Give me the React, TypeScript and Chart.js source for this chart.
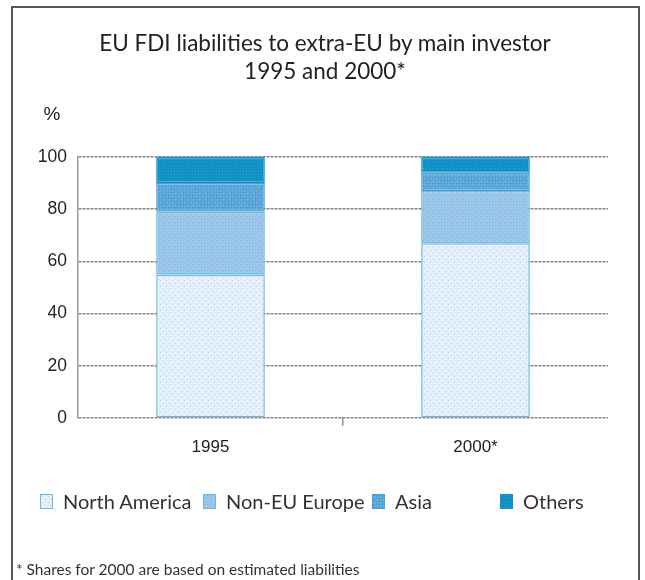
import React, { useEffect, useRef } from "react";
import { Chart, registerables } from "chart.js";

Chart.register(...registerables);

const categories = ["1995", "2000*"];
const seriesNames = ["North America", "Non-EU Europe", "Asia", "Others"];
const northAmerica = [55, 67];
const nonEuEurope = [24, 20];
const asia = [11, 7];
const others = [10, 6];
const yTicks = [0, 20, 40, 60, 80, 100];

const titleLines = ["EU FDI liabilities to extra-EU by main investor", "1995 and 2000*"];
const footnote = "* Shares for 2000 are based on estimated liabilities";

// fill styles: [base, dot1, dot2, border]
const fills = [
  ["#e6f3fb", "#c9e4f5", "#cbbfe6", "#6db8e2"],
  ["#9ccaea", "#7fb4e2", "#a9a3df", "#6db8e2"],
  ["#5ea8da", "#3d8fd0", "#86bfe6", "#4aa0d8"],
  ["#1192c6", "#26a0d2", "#0b86bb", "#1192c6"],
];
const legendLeft = [40, 203, 372, 500];

function makeTile(f: string[]) {
  const c = document.createElement("canvas");
  c.width = 6;
  c.height = 6;
  const g = c.getContext("2d")!;
  g.fillStyle = f[0];
  g.fillRect(0, 0, 6, 6);
  g.fillStyle = f[1];
  g.fillRect(0, 0, 1, 1);
  g.fillRect(3, 3, 1, 1);
  g.fillRect(0, 3, 1, 1);
  g.fillRect(3, 0, 1, 1);
  g.fillStyle = f[2];
  g.fillRect(1, 1, 1, 1);
  g.fillRect(4, 4, 1, 1);
  return c;
}

export default function App() {
  const ref = useRef<HTMLCanvasElement>(null);
  const tiles = fills.map((f) => makeTile(f));

  useEffect(() => {
    const ctx = ref.current!.getContext("2d")!;
    const patterns = tiles.map((t) => ctx.createPattern(t, "repeat")!);
    const values = [northAmerica, nonEuEurope, asia, others];

    const percentLabel = {
      id: "percentLabel",
      afterDraw(chart: any) {
        const c = chart.ctx;
        const a = chart.chartArea;
        c.save();
        c.font = "19px 'Liberation Sans'";
        c.fillStyle = "#222";
        c.textAlign = "center";
        c.textBaseline = "middle";
        c.fillText("%", a.left - 26, a.top - 42);
        c.restore();
      },
    };

    const chart = new Chart(ctx, {
      type: "bar",
      data: {
        labels: categories,
        datasets: seriesNames.map((name, i) => ({
          label: name,
          data: values[i],
          backgroundColor: patterns[i],
          borderColor: fills[i][3],
          borderWidth: 1.5,
          borderSkipped: false,
          categoryPercentage: 1,
          barPercentage: 0.41,
        })),
      },
      options: {
        animation: false,
        responsive: false,
        layout: { padding: { left: 0, right: 37, top: 157, bottom: 122 } },
        plugins: {
          legend: { display: false },
          tooltip: { enabled: false },
          title: { display: false },
        },
        scales: {
          x: {
            stacked: true,
            afterFit(scale: any) {
              scale.height = 40;
            },
            grid: {
              display: true,
              offset: true,
              drawOnChartArea: false,
              tickLength: 8,
              color: (c: any) => (c.index === 1 ? "#9a9494" : "transparent"),
              lineWidth: 1.5,
            },
            border: { display: false },
            ticks: {
              color: "#222",
              padding: 11,
              font: { family: "Liberation Sans", size: 17 },
            },
          },
          y: {
            stacked: true,
            min: 0,
            max: 100,
            afterFit(scale: any) {
              scale.width = 78;
            },
            afterBuildTicks(scale: any) {
              scale.ticks = yTicks.map((v) => ({ value: v }));
            },
            grid: {
              color: "#8c8484",
              lineWidth: 1.5,
              drawTicks: false,
            },
            border: { display: true, color: "#a09a9a", width: 1.5, dash: [3, 1] },
            ticks: {
              color: "#222",
              padding: 11,
              font: { family: "Liberation Sans", size: 17.5 },
            },
          },
        },
      },
      plugins: [percentLabel],
    });
    return () => chart.destroy();
  }, []);

  return (
    <div
      style={{
        position: "absolute",
        left: 0,
        top: 0,
        width: 645,
        height: 580,
        overflow: "hidden",
        background: "#fff",
      }}
    >
      <canvas ref={ref} width={645} height={580} style={{ position: "absolute", left: 0, top: 0 }} />
      <div
        style={{
          position: "absolute",
          left: 11,
          top: 6,
          width: 625,
          height: 600,
          border: "2px solid #555",
          borderBottom: "none",
        }}
      />
      <div
        style={{
          position: "absolute",
          left: 0,
          width: 650,
          top: 29,
          textAlign: "center",
          fontFamily: "Lato",
          fontSize: 22.5,
          lineHeight: "28px",
          color: "#222",
          whiteSpace: "nowrap",
        }}
      >
        {titleLines.map((t) => (
          <div key={t}>{t}</div>
        ))}
      </div>
      {seriesNames.map((name, i) => (
        <div
          key={name}
          style={{
            position: "absolute",
            left: legendLeft[i],
            top: 489,
            height: 24,
            display: "flex",
            alignItems: "center",
            fontFamily: "Lato",
            fontSize: 20,
            color: "#333",
            whiteSpace: "nowrap",
          }}
        >
          <span
            style={{
              display: "inline-block",
              width: 11,
              height: 13,
              marginRight: 10,
              backgroundImage: `url(${tiles[i].toDataURL()})`,
              border: `1px solid ${fills[i][3]}`,
            }}
          />
          {name}
        </div>
      ))}
      <div
        style={{
          position: "absolute",
          left: 16,
          top: 560,
          fontFamily: "Lato",
          fontSize: 15.5,
          color: "#333",
          whiteSpace: "nowrap",
        }}
      >
        {footnote}
      </div>
    </div>
  );
}
